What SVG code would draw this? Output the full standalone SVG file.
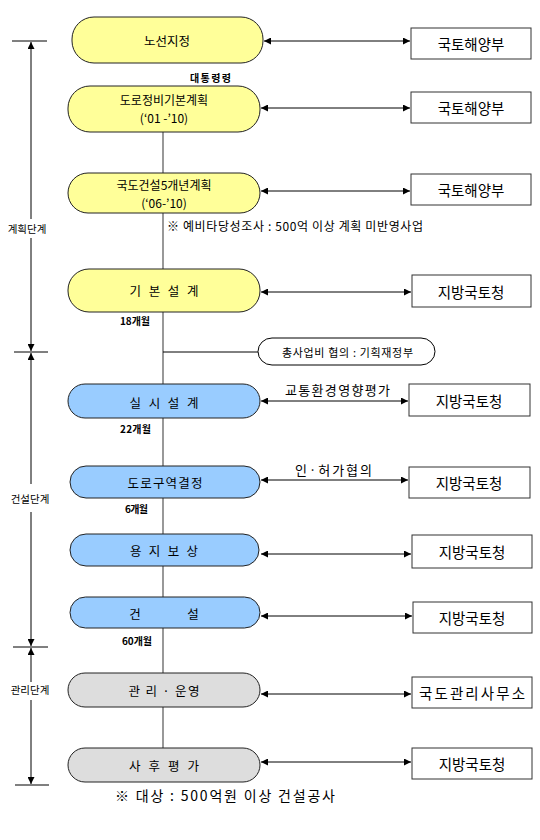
<svg xmlns="http://www.w3.org/2000/svg" width="540" height="840" viewBox="0 0 540 840">
<style>
text{font-family:"Noto Sans CJK KR","Liberation Sans",sans-serif;fill:#000}
.n{stroke:#222;stroke-width:1}
.y{fill:#FFFF99}
.b{fill:#99CCFF}
.g{fill:#DDDDDD}
.nt{font-size:12.5px;text-anchor:middle;dominant-baseline:central}
.nt2{font-size:12px;text-anchor:middle;dominant-baseline:central}
.box{fill:#fff;stroke:#333;stroke-width:1}
.bt{font-size:14.5px;text-anchor:middle;dominant-baseline:central}
.sm{font-size:10px;font-weight:bold;dominant-baseline:central}
.lbl{font-size:13px;dominant-baseline:central}
.side{font-size:10.5px;dominant-baseline:central;text-anchor:middle}
.ar{stroke:#000;stroke-width:1;fill:none;marker-start:url(#ah);marker-end:url(#ah)}
.v{stroke:#555;stroke-width:1.2;fill:none}
.dim{stroke:#000;stroke-width:1;fill:none}
</style>
<defs>
<marker id="ah" viewBox="0 0 10 10" refX="10" refY="5" markerWidth="9" markerHeight="7" markerUnits="userSpaceOnUse" orient="auto-start-reverse">
<path d="M0,0 L10,5 L0,10 z" fill="#000"/>
</marker>
</defs>

<g id="connectors">
<path class="v" d="M163,132 V173 M163,213 V269 M163,312 V384 M163,418 V466 M163,498 V534 M163,566 V597 M163,628 V673 M163,707 V748"/>
<path class="dim" d="M163,352 H258"/>
<line class="ar" x1="264" y1="41" x2="410" y2="41"/>
<line class="ar" x1="261" y1="108" x2="410" y2="108"/>
<line class="ar" x1="261" y1="191" x2="410" y2="191"/>
<line class="ar" x1="261" y1="292" x2="411" y2="292"/>
<line class="ar" x1="261" y1="401" x2="408" y2="401"/>
<line class="ar" x1="261" y1="480" x2="408" y2="480"/>
<line class="ar" x1="261" y1="554" x2="411" y2="554"/>
<line class="ar" x1="261" y1="616" x2="412" y2="616"/>
<line class="ar" x1="261" y1="694" x2="411" y2="694"/>
<line class="ar" x1="261" y1="762" x2="411" y2="762"/>
</g>

<g id="phases">
<path class="dim" d="M12,41 H47 M14,352 H48 M13,647 H48 M15,785 H49"/>
<line class="dim" x1="31" y1="219" x2="31" y2="42" marker-end="url(#ah)"/>
<line class="dim" x1="31" y1="238" x2="31" y2="351" marker-end="url(#ah)"/>
<line class="dim" x1="31" y1="484" x2="31" y2="353" marker-end="url(#ah)"/>
<line class="dim" x1="31" y1="512" x2="31" y2="646" marker-end="url(#ah)"/>
<line class="dim" x1="31" y1="682" x2="31" y2="648" marker-end="url(#ah)"/>
<line class="dim" x1="31" y1="700" x2="31" y2="784" marker-end="url(#ah)"/>
<text class="side" x="27" y="228">계획단계</text>
<text class="side" x="30" y="498">건설단계</text>
<text class="side" x="30" y="689">관리단계</text>
</g>

<g id="n1"><rect class="n y" x="72" y="17" width="191" height="46" rx="22"/><text class="nt" x="167" y="40">노선지정</text></g>
<g id="n2"><rect class="n y" x="68" y="86" width="192" height="46" rx="22"/><text class="nt2" x="164" y="99.5">도로정비기본계획</text><text class="nt2" x="164" y="117.5">(‘01 -’10)</text></g>
<g id="n3"><rect class="n y" x="68" y="173" width="192" height="40" rx="20"/><text class="nt2" x="164" y="184">국도건설5개년계획</text><text class="nt2" x="164" y="202">(‘06-’10)</text></g>
<g id="n4"><rect class="n y" x="68" y="269" width="192" height="43" rx="21"/><text class="nt" x="164" y="290" textLength="69">기 본 설 계</text></g>
<g id="n5"><rect class="n b" x="68" y="384" width="192" height="34" rx="17"/><text class="nt" x="164" y="402" textLength="69">실 시 설 계</text></g>
<g id="n6"><rect class="n b" x="70" y="466" width="190" height="32" rx="16"/><text class="nt" x="165" y="482" textLength="75">도로구역결정</text></g>
<g id="n7"><rect class="n b" x="70" y="534" width="189" height="32" rx="16"/><text class="nt" x="164" y="550" textLength="68">용 지 보 상</text></g>
<g id="n8"><rect class="n b" x="70" y="597" width="190" height="31" rx="15.5"/><text class="nt" y="613"><tspan x="135">건</tspan><tspan x="193">설</tspan></text></g>
<g id="n9"><rect class="n g" x="68" y="673" width="192" height="34" rx="17"/><text class="nt" x="164" y="690" textLength="71">관 리 · 운영</text></g>
<g id="n10"><rect class="n g" x="68" y="748" width="192" height="34" rx="17"/><text class="nt" x="164" y="765" textLength="70">사 후 평 가</text></g>

<g id="b1"><rect class="box" x="411" y="28" width="120" height="31"/><text class="bt" x="471" y="43.5">국토해양부</text></g>
<g id="b2"><rect class="box" x="411" y="92" width="120" height="31"/><text class="bt" x="471" y="107.5">국토해양부</text></g>
<g id="b3"><rect class="box" x="411" y="174" width="120" height="31"/><text class="bt" x="471" y="189.5">국토해양부</text></g>
<g id="b4"><rect class="box" x="412" y="275" width="119" height="32"/><text class="bt" x="471" y="291">지방국토청</text></g>
<g id="b5"><rect class="box" x="409" y="384" width="121" height="32"/><text class="bt" x="469" y="400">지방국토청</text></g>
<g id="b6"><rect class="box" x="409" y="467" width="121" height="31"/><text class="bt" x="469" y="482.5">지방국토청</text></g>
<g id="b7"><rect class="box" x="412" y="535" width="120" height="33"/><text class="bt" x="472" y="551.5">지방국토청</text></g>
<g id="b8"><rect class="box" x="413" y="602" width="119" height="31"/><text class="bt" x="472" y="617.5">지방국토청</text></g>
<g id="b9"><rect class="box" x="412" y="677" width="120" height="31"/><text class="bt" x="472" y="692.5" textLength="106">국도관리사무소</text></g>
<g id="b10"><rect class="box" x="412" y="748" width="120" height="31"/><text class="bt" x="472" y="763.5">지방국토청</text></g>

<g id="bubble"><rect x="258" y="338" width="177" height="27" rx="14" ry="13.5" fill="#fff" stroke="#000" stroke-width="1"/><text x="282" y="352" textLength="131" style="font-size:11px;dominant-baseline:central">총사업비 협의 : 기획재정부</text></g>

<g id="labels">
<text class="sm" x="190" y="77" textLength="41">대통령령</text>
<text class="lbl" x="167" y="225" textLength="256" style="font-size:12px">※ 예비타당성조사 : 500억 이상 계획 미반영사업</text>
<text class="sm" x="120" y="320" textLength="30">18개월</text>
<text class="sm" x="120" y="428" textLength="31">22개월</text>
<text class="sm" x="125" y="508" textLength="23">6개월</text>
<text class="sm" x="122" y="640" textLength="30">60개월</text>
<text class="lbl" x="285" y="389" textLength="105">교통환경영향평가</text>
<text class="lbl" x="295" y="469" textLength="77">인·허가협의</text>
<text class="lbl" x="115" y="795" textLength="220" style="font-size:14px">※ 대상 : 500억원 이상 건설공사</text>
</g>
</svg>
